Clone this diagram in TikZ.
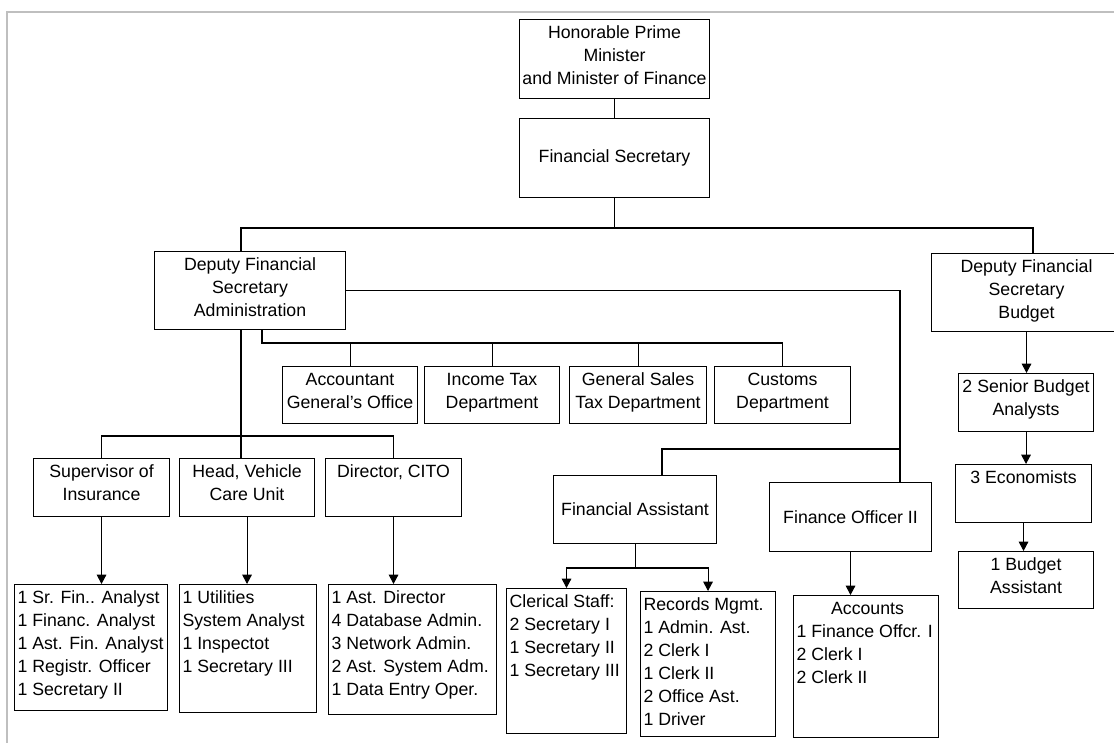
\documentclass[tikz,border=0pt]{standalone}
\usepackage{fontspec}
\setmainfont{Liberation Sans}
\usetikzlibrary{arrows.meta}
\newlength\px \setlength\px{0.025cm}
\newcommand\toptext[3]{\parbox[c][#2\px][t]{#1\px}{\centering\vspace{3\px}\strut#3}}
\newcommand\midtext[3]{\parbox[c][#2\px][c]{#1\px}{\centering#3}}
\newcommand\listtext[3]{\parbox[c][#2\px][t]{#1\px}{\raggedright\leftskip=3\px\vspace{3\px}\strut#3}}

\begin{document}
\begin{tikzpicture}[x=0.025cm,y=-0.025cm,>={Triangle[length=6.6pt,width=6.8pt]},
    line width=0.75pt,font=\fontsize{12.6}{16.36}\selectfont,
    orgbox/.style={draw,inner sep=0pt,anchor=north west}]
  \useasboundingbox (0,0) rectangle (1114,743);
  \draw[gray!50,line width=1.2pt] (1114,12) -- (7,12) -- (7,743);
  % top of the chart
  \node[orgbox] (pm) at (519,19) {\toptext{190}{79}{Honorable Prime\\Minister\\and Minister of Finance}};
  \node[orgbox] (fs) at (519,118) {\midtext{190}{79}{Financial Secretary}};
  \node[orgbox] (dfsa) at (154,251) {\toptext{191}{78}{Deputy Financial\\Secretary\\Administration}};
  \node[orgbox] (dfsb) at (931,253) {\toptext{190}{78}{Deputy Financial\\Secretary\\Budget}};
  % departments
  \node[orgbox] (acc) at (282,366) {\toptext{135}{57}{Accountant\\General's Office}};
  \node[orgbox] (itd) at (424,366) {\toptext{135}{57}{Income Tax\\Department}};
  \node[orgbox] (gst) at (569,366) {\toptext{137}{57}{General Sales\\Tax Department}};
  \node[orgbox] (cus) at (714,366) {\toptext{136}{57}{Customs\\Department}};
  % units and their staff
  \node[orgbox] (sup) at (33,458) {\toptext{136}{58}{Supervisor of\\Insurance}};
  \node[orgbox] (hvc) at (179,458) {\toptext{135}{58}{Head, Vehicle\\Care Unit}};
  \node[orgbox] (cito) at (325,458) {\toptext{136}{58}{Director, CITO}};
  \node[orgbox] (supst) at (14,584) {\listtext{153}{126}{1 Sr. Fin.. Analyst\\1 Financ. Analyst\\1 Ast. Fin. Analyst\\1 Registr. Officer\\1 Secretary II}};
  \node[orgbox] (hvcst) at (179,584) {\listtext{137}{128}{1 Utilities\\System Analyst\\1 Inspectot\\1 Secretary III}};
  \node[orgbox] (citost) at (328,584) {\listtext{168}{130}{1 Ast. Director\\4 Database Admin.\\3 Network Admin.\\2 Ast. System Adm.\\1 Data Entry Oper.}};
  % financial assistant, finance officer
  \node[orgbox] (fa) at (553,475) {\midtext{163}{68}{Financial Assistant}};
  \node[orgbox] (fo) at (769,482) {\midtext{162}{69}{Finance Officer II}};
  \node[orgbox] (cler) at (506,588) {\listtext{120}{145}{Clerical Staff:\\2 Secretary I\\1 Secretary II\\1 Secretary III}};
  \node[orgbox] (rec) at (640,591) {\listtext{135}{145}{Records Mgmt.\\1 Admin. Ast.\\2 Clerk I\\1 Clerk II\\2 Office Ast.\\1 Driver}};
  \node[orgbox] (accts) at (793,595) {\listtext{145}{142}{\hfill Accounts\hfill\mbox{}\\1 Finance Offcr. I\\2 Clerk I\\2 Clerk II}};
  % budget
  \node[orgbox] (sba) at (958,373) {\toptext{135}{58}{2 Senior Budget\\Analysts}};
  \node[orgbox] (eco) at (955,464) {\toptext{136}{58}{3 Economists}};
  \node[orgbox] (bas) at (958,551) {\toptext{135}{57}{1 Budget\\Assistant}};
  % connectors
  \coordinate (busL) at (241,228);
  \coordinate (busR) at (1033,228);
  \draw (pm) -- (fs);
  \draw (fs) -- (fs |- busL);
  \draw (busL |- dfsa.north) -- (busL) -- (busR) -- (busR |- dfsb.north);
  \coordinate (spine) at (900,449);
  \coordinate (faj) at (662,449);
  \draw (dfsa.east) -| (spine |- fo.north);
  \draw (spine) -- (faj) -- (faj |- fa.north);
  \coordinate (deptbus) at (262,343);
  \draw (deptbus |- dfsa.south) -- (deptbus) -| (cus.north);
  \foreach \dept in {acc,itd,gst}
    \draw (\dept.north) -- (\dept.north |- deptbus);
  \coordinate (unitbus) at (241,436);
  \draw (unitbus |- dfsa.south) -- (unitbus |- hvc.north);
  \draw (sup.north) |- (unitbus) -| (cito.north);
  \foreach \src/\dst in {sup/supst,hvc/hvcst,cito/citost,fo/accts,dfsb/sba,sba/eco,eco/bas}
    \draw[->] (\src.south) -- (\src.south |- \dst.north);
  \coordinate (fabus) at (636,568);
  \draw (fa.south) -- (fa.south |- fabus);
  \draw[<->] (cler.north) |- (fabus) -| (rec.north);
\end{tikzpicture}
\end{document}
